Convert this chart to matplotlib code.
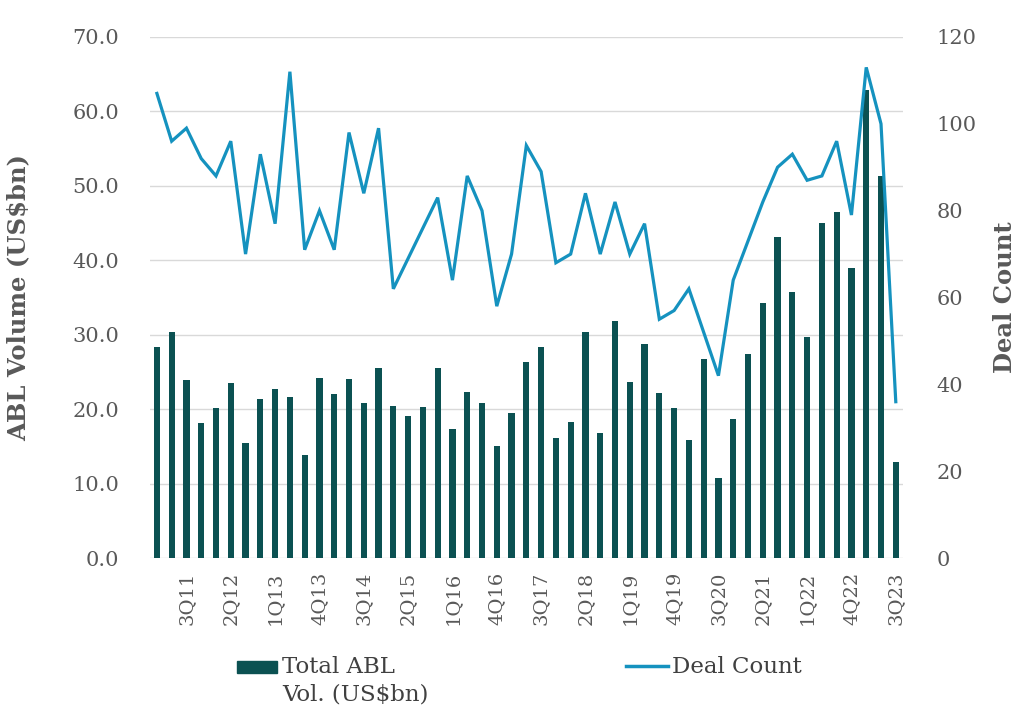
import matplotlib
matplotlib.use("Agg")
import matplotlib.pyplot as plt
from matplotlib.patches import Rectangle
from matplotlib.lines import Line2D

# Quarters 1Q11 .. 3Q23
quarters = [f"{q}Q{y:02d}" for y in range(11, 24) for q in range(1, 5)][:51]

# Total ABL volume (US$bn)
abl_volume = [28.4, 30.4, 23.9, 18.2, 20.2, 23.5, 15.5, 21.3, 22.7, 21.7,
              13.8, 24.2, 22.0, 24.1, 20.8, 25.5, 20.4, 19.1, 20.3, 25.5,
              17.4, 22.3, 20.8, 15.1, 19.5, 26.4, 28.3, 16.1, 18.3, 30.4,
              16.8, 31.9, 23.7, 28.8, 22.2, 20.2, 15.9, 26.7, 10.8, 18.7,
              27.4, 34.2, 43.1, 35.7, 29.7, 45.0, 46.5, 39.0, 62.9, 51.3,
              12.9]

# Deal count
deal_count = [107, 96, 99, 92, 88, 96, 70, 93, 77, 112,
              71, 80, 71, 98, 84, 99, 62, 69, 76, 83,
              64, 88, 80, 58, 70, 95, 89, 68, 70, 84,
              70, 82, 70, 77, 55, 57, 62, 52, 42, 64,
              73, 82, 90, 93, 87, 88, 96, 79, 113, 100,
              36]

BAR_COLOR = "#0b5152"
LINE_COLOR = "#1592bf"
TEXT_COLOR = "#595959"
SERIF = "DejaVu Serif"

fig = plt.figure(figsize=(10.24, 7.25), dpi=100)
ax = fig.add_axes([0.146, 0.2303, 0.736, 0.7187])
ax2 = ax.twinx()

x = list(range(len(quarters)))

# bars (left axis)
ax.bar(x, abl_volume, width=0.42, color=BAR_COLOR, zorder=2)
ax.set_ylim(0, 70)
ax.set_xlim(-0.5, len(quarters) - 0.5)
ax.set_yticks(range(0, 71, 10))
ax.set_yticklabels([f"{v:.1f}" for v in range(0, 71, 10)])
ax.yaxis.grid(True, color="#d9d9d9", linewidth=1.0, zorder=0)
ax.set_axisbelow(True)

# line (right axis)
ax2.plot(x, deal_count, color=LINE_COLOR, linewidth=2.3, solid_joinstyle="miter", zorder=3)
ax2.set_ylim(0, 120)
ax2.set_yticks(range(0, 121, 20))

for a in (ax, ax2):
    for s in a.spines.values():
        s.set_visible(False)
    a.tick_params(length=0, colors=TEXT_COLOR)

ax.tick_params(axis="y", pad=22, labelsize=15)
ax2.tick_params(axis="y", pad=24, labelsize=15)
for lbl in ax.get_yticklabels() + ax2.get_yticklabels():
    lbl.set_fontfamily(SERIF)

# x ticks: every third quarter starting 3Q11
tick_idx = list(range(2, len(quarters), 3))
ax.set_xticks(tick_idx)
ax.set_xticklabels([quarters[i] for i in tick_idx], rotation=90,
                   fontsize=14, family=SERIF, color=TEXT_COLOR)
ax.tick_params(axis="x", pad=10)

ax.set_ylabel("ABL Volume (US$bn)", fontsize=17.5, fontweight="bold",
              family=SERIF, color=TEXT_COLOR, labelpad=30)
ax2.set_ylabel("Deal Count", fontsize=17.5, fontweight="bold",
               family=SERIF, color=TEXT_COLOR, labelpad=12)

# legend drawn by hand to match layout
fig.patches.append(Rectangle((237 / 1024, 1 - 673 / 725), 40 / 1024, 12 / 725,
                             transform=fig.transFigure, color=BAR_COLOR))
fig.text(282 / 1024, 1 - 667 / 725, "Total ABL", fontsize=16.5, family=SERIF,
         color="#404040", va="center")
fig.text(282 / 1024, 1 - 694 / 725, "Vol. (US$bn)", fontsize=16.5, family=SERIF,
         color="#404040", va="center")
fig.lines.append(Line2D([626 / 1024, 668 / 1024], [1 - 666 / 725, 1 - 666 / 725],
                        transform=fig.transFigure, color=LINE_COLOR, linewidth=2.5))
fig.text(672 / 1024, 1 - 667 / 725, "Deal Count", fontsize=16.5, family=SERIF,
         color="#404040", va="center")

fig.savefig("out.png", dpi=100, facecolor="white")
